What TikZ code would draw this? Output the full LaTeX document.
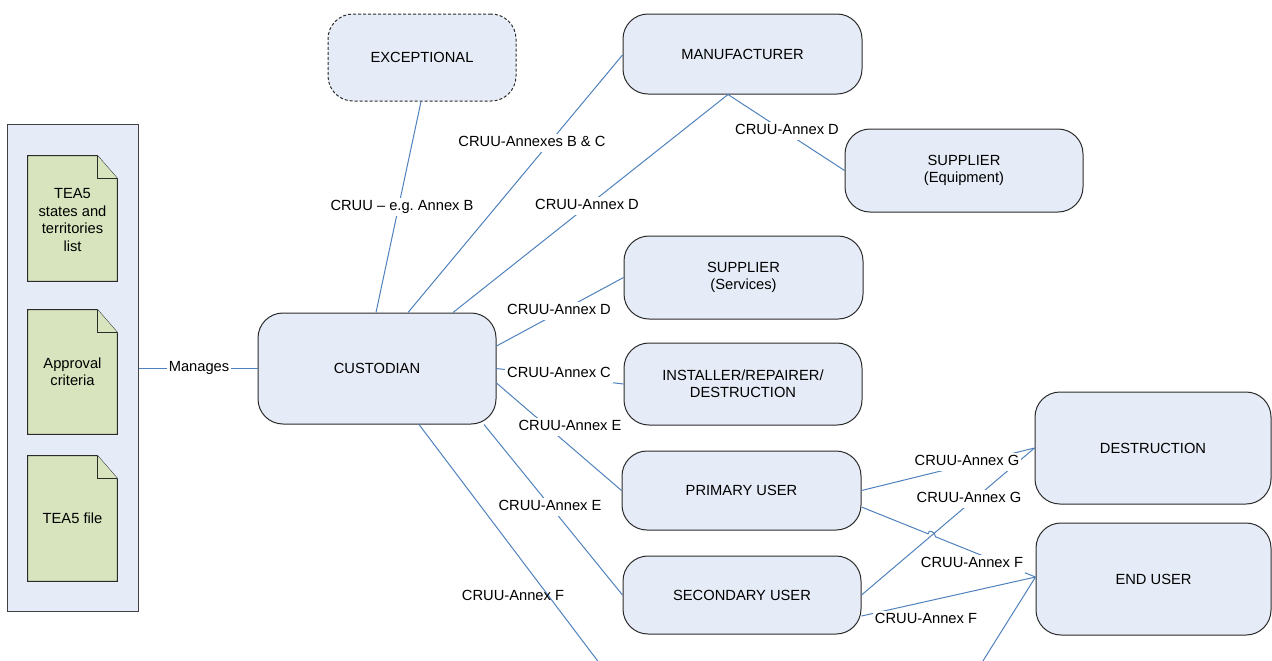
\documentclass[tikz,border=0pt]{standalone}
\usepackage{fontspec}
\setmainfont{Liberation Sans}
\usetikzlibrary{calc}
\newcommand\dfont{\fontsize{7.35}{8.7}\selectfont}
\definecolor{boxfill}{HTML}{E6ECF7}
\definecolor{docfill}{HTML}{D7E4BD}
\definecolor{linkblue}{HTML}{4F81BD}
\definecolor{edge}{HTML}{2B2B2B}
\begin{document}
\begin{tikzpicture}[x=0.5pt,y=-0.5pt,
  every node/.style={font=\dfont},
  rbox/.style={draw=edge, line width=0.5pt, fill=boxfill, rounded corners=12.5pt,
    align=center, inner sep=0pt},
  docnode/.style={inner sep=0pt, minimum width=44.5pt},
  docline/.style={draw=edge, line width=0.5pt, fill=docfill},
  doctext/.style={align=center, inner sep=0pt},
  conn/.style={draw=linkblue, line width=0.5pt},
  lab/.style={fill=white, inner sep=1pt, text height=5.4pt, text depth=1.5pt},
  labclear/.style={inner sep=1pt, text height=5.4pt, text depth=1.5pt}]
\useasboundingbox (0,0) rectangle (1272,660);
\clip (0,0) rectangle (1272,660);

% left panel with documents
\node[draw=edge!90, line width=0.5pt, fill=boxfill, minimum width=65.5pt, minimum height=243.5pt, inner sep=0pt] (panel) at (72.5,367.5) {};
\node[docnode, minimum height=62.5pt] (d1) at (72.5,218.5) {};
\node[docnode, minimum height=62pt] (d2) at (72.5,372) {};
\node[docnode, minimum height=62.5pt] (d3) at (72.5,518.5) {};
\foreach \d in {d1,d2,d3}{
  \draw[docline] (\d.south west) -- (\d.north west) -- ($(\d.north east)+(-20,0)$)
     -- ($(\d.north east)+(0,23)$) -- (\d.south east) -- cycle;
  \draw[docline] ($(\d.north east)+(-20,0)$) -- ($(\d.north east)+(-20,23)$) -- ($(\d.north east)+(0,23)$);
}
\node[doctext] (d1t) at (72.5,220) {TEA5\\states and\\territories\\list};
\node[doctext] (d2t) at (72.5,372) {Approval\\criteria};
\node[doctext] (d3t) at (72.5,518) {TEA5 file};

% main boxes
\node[rbox, dash pattern=on 1.5pt off 1pt, minimum width=94pt, minimum height=43.5pt] (exc) at (422,57.5) {EXCEPTIONAL};
\node[rbox, minimum width=119pt, minimum height=55.5pt] (cust) at (377,368.5) {CUSTODIAN};
\node[rbox, minimum width=119.5pt, minimum height=40pt] (man) at (742.5,54) {MANUFACTURER};
\node[rbox, minimum width=119pt, minimum height=41.5pt] (supe) at (964,170.5) {SUPPLIER\\(Equipment)};
\node[rbox, minimum width=119.5pt, minimum height=41.5pt] (sups) at (743.5,277.5) {SUPPLIER\\(Services)};
\node[rbox, minimum width=119pt, minimum height=41pt] (inst) at (743,384) {INSTALLER/REPAIRER/\\DESTRUCTION};
\node[rbox, minimum width=119.5pt, minimum height=39.5pt] (pu) at (741.5,490.5) {PRIMARY USER};
\node[rbox, minimum width=119pt, minimum height=39pt] (su) at (742,595) {SECONDARY USER};
\node[rbox, minimum width=118pt, minimum height=56pt] (dest) at (1153,448) {DESTRUCTION};
\node[rbox, minimum width=117.5pt, minimum height=56pt] (eu) at (1153.5,579) {END USER};

% free ends
\coordinate (fbot) at (600,664);
\coordinate (febot) at (981,664);

% connectors
\draw[conn] ([yshift=-0.25pt]panel.east) -- ([yshift=0.25pt]cust.west);
\draw[conn] ([xshift=-0.5pt]exc.south) -- ([xshift=-0.5pt]cust.north);
\draw[conn] ([xshift=15.5pt]cust.north) -- ([yshift=-0.5pt]man.west);
\draw[conn] ([xshift=38pt]cust.north) -- ([xshift=-7.25pt]man.south);
\draw[conn] ([xshift=-7.25pt]man.south) -- (supe.west);
\draw[conn] ([yshift=11.25pt]cust.east) -- (sups.west);
\draw[conn] (cust.east) -- (inst.west);
\draw[conn] ([yshift=-7.25pt]cust.east) -- (pu.west);
\draw[conn] ([xshift=53.5pt]cust.south) -- (su.west);
\draw[conn] ([xshift=21pt]cust.south) -- (fbot);
\draw[conn] (pu.east) -- (dest.west);
\coordinate (p11a) at (su.east);
\coordinate (p11b) at (dest.west);
\draw[conn] (p11a) -- (p11b);
\coordinate (p12a) at ([yshift=-8.25pt]pu.east);
\coordinate (p12b) at ([yshift=1pt]eu.west);
\coordinate (hx) at (intersection of p12a--p12b and p11a--p11b);
\draw[conn] (p12a) -- ($(hx)!2pt!(p12a)$) .. controls +(0,-5) and +(0,-5) .. ($(hx)!2pt!(p12b)$) -- (p12b);
\draw[conn] ([yshift=-10.5pt]su.east) -- (p12b);
\draw[conn] (p12b) -- (febot);

% labels
\node[lab] (l0) at (199,368) {Manages};
\node[lab] (l1) at (402,207) {CRUU – e.g.\ Annex B};
\node[lab] (l2) at (532,143) {CRUU-Annexes B \& C};
\node[lab] (l3) at (587,206) {CRUU-Annex D};
\node[lab] (l4) at (787,131) {CRUU-Annex D};
\node[lab] (l5) at (559,311) {CRUU-Annex D};
\node[lab] (l6) at (559,374) {CRUU-Annex C};
\node[lab] (l7) at (570,427) {CRUU-Annex E};
\node[lab] (l8) at (550,507) {CRUU-Annex E};
\node[labclear] (l9) at (513,597) {CRUU-Annex F};
\node[lab] (l10) at (967,462) {CRUU-Annex G};
\node[lab] (l11) at (969,499) {CRUU-Annex G};
\node[lab] (l12) at (972,564) {CRUU-Annex F};
\node[lab] (l13) at (926,620) {CRUU-Annex F};
\end{tikzpicture}
\end{document}
